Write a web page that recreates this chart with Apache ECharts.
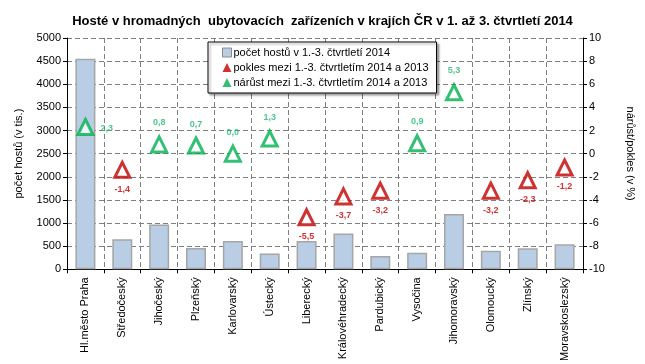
<!DOCTYPE html>
<html>
<head>
<meta charset="utf-8">
<script src="https://cdn.jsdelivr.net/npm/echarts@6/dist/echarts.min.js"></script>
<style>
  html, body { margin: 0; padding: 0; background: #fff; }
  #chart { width: 645px; height: 364px; }
</style>
</head>
<body>
<div id="chart"></div>
<script>
// kraje
const regions = ['Hl.město Praha', 'Středočeský', 'Jihočeský', 'Plzeňský', 'Karlovarský', 'Ústecký', 'Liberecký',
    'Královéhradecký', 'Pardubický', 'Vysočina', 'Jihomoravský', 'Olomoucký', 'Zlínský', 'Moravskoslezský'];
// počet hostů v tis.
const guests = [4550, 650, 970, 460, 610, 340, 610, 775, 285, 355, 1195, 400, 455, 540];
// meziroční změna v %
const change = [2.3, -1.4, 0.8, 0.7, 0.0, 1.3, -5.5, -3.7, -3.2, 0.9, 5.3, -3.2, -2.3, -1.2];

const RED = '#c00000';
const GREEN = '#00b050';

const declineData = change.map((v, i) => v < 0 ? [i, v] : [i, null]);
const growthData = change.map((v, i) => {
    if (v < 0) return [i, null];
    const item = { value: [i, v] };
    // Praha má popisek vpravo
    if (i === 0) item.label = { position: 'right', distance: 6, offset: [0, 1] };
    return item;
});

const fmt = p => p.value[1].toFixed(1).replace('.', ',');

const chart = echarts.init(document.getElementById('chart'));
chart.setOption({
    animation: false,
    textStyle: { fontFamily: 'Liberation Sans, Arial, sans-serif' },
    title: {
        text: 'Hosté v hromadných  ubytovacích  zařízeních v krajích ČR v 1. až 3. čtvrtletí 2014',
        left: 'center', top: 10,
        textStyle: { fontSize: 13, fontWeight: 'bold', color: '#000' }
    },
    legend: {
        orient: 'vertical', left: 208, top: 42,
        width: 228,
        padding: [5, 8, 5, 14],
        itemGap: 4,
        itemWidth: 9, itemHeight: 9,
        borderColor: '#000', borderWidth: 1,
        backgroundColor: '#fff',
        shadowColor: 'rgba(0,0,0,0.35)', shadowOffsetX: 2, shadowOffsetY: 2, shadowBlur: 2,
        textStyle: { fontSize: 11, color: '#000', padding: [0, 0, 0, -3] },
        data: [
            { name: 'počet hostů v 1.-3. čtvrtletí 2014', icon: 'rect', itemStyle: { color: '#b9cde5', borderColor: '#8a8a8a', borderWidth: 1 } },
            { name: 'pokles mezi 1.-3. čtvrtletím 2014 a 2013', icon: 'triangle', itemStyle: { color: RED, borderWidth: 0 } },
            { name: 'nárůst mezi 1.-3. čtvrtletím 2014 a 2013', icon: 'triangle', itemStyle: { color: GREEN, borderWidth: 0 } }
        ]
    },
    grid: { left: 67, right: 62, top: 38, bottom: 92 },
    xAxis: {
        type: 'category',
        data: regions,
        axisLine: { lineStyle: { color: '#000', width: 1 } },
        axisTick: { show: true, length: 4, lineStyle: { color: '#000' } },
        splitLine: { show: true, lineStyle: { type: [5, 3], color: '#7f7f7f' } },
        axisLabel: { rotate: 90, fontSize: 11, color: '#000', margin: 8 }
    },
    yAxis: [
        {
            type: 'value', min: 0, max: 5000, interval: 500,
            name: 'počet hostů (v tis.)', nameLocation: 'middle', nameGap: 43,
            nameTextStyle: { fontSize: 11, color: '#000' },
            axisLine: { show: true, lineStyle: { color: '#000' } },
            axisTick: { show: true, length: 4, lineStyle: { color: '#000' } },
            axisLabel: { fontSize: 11, color: '#000', margin: 6, formatter: v => String(v) },
            splitLine: { lineStyle: { type: [5, 3], color: '#7f7f7f' } }
        },
        {
            type: 'value', min: -10, max: 10, interval: 2,
            name: 'nárůst/pokles (v %)', nameLocation: 'middle', nameGap: 42, nameRotate: -90,
            nameTextStyle: { fontSize: 11, color: '#000' },
            axisLine: { show: true, lineStyle: { color: '#000' } },
            axisTick: { show: true, length: 4, lineStyle: { color: '#000' } },
            axisLabel: { fontSize: 11, color: '#000', margin: 6 },
            splitLine: { show: false }
        }
    ],
    series: [
        {
            name: 'počet hostů v 1.-3. čtvrtletí 2014',
            type: 'bar', data: guests, barWidth: 20,
            itemStyle: { color: '#b9cde5', borderColor: '#a6a6a6', borderWidth: 1.5 }
        },
        {
            name: 'pokles mezi 1.-3. čtvrtletím 2014 a 2013',
            type: 'scatter', yAxisIndex: 1, data: declineData,
            symbol: 'triangle', symbolSize: 15,
            itemStyle: { color: '#fff', borderColor: RED, borderWidth: 3 },
            label: { show: true, position: 'bottom', distance: 6, formatter: fmt, color: RED, fontSize: 9, fontWeight: 'bold' }
        },
        {
            name: 'nárůst mezi 1.-3. čtvrtletím 2014 a 2013',
            type: 'scatter', yAxisIndex: 1, data: growthData,
            symbol: 'triangle', symbolSize: 15,
            itemStyle: { color: '#fff', borderColor: GREEN, borderWidth: 3 },
            label: { show: true, position: 'top', distance: 8, formatter: fmt, color: '#1fb870', fontSize: 9, fontWeight: 'bold' }
        }
    ]
});
</script>
</body>
</html>
